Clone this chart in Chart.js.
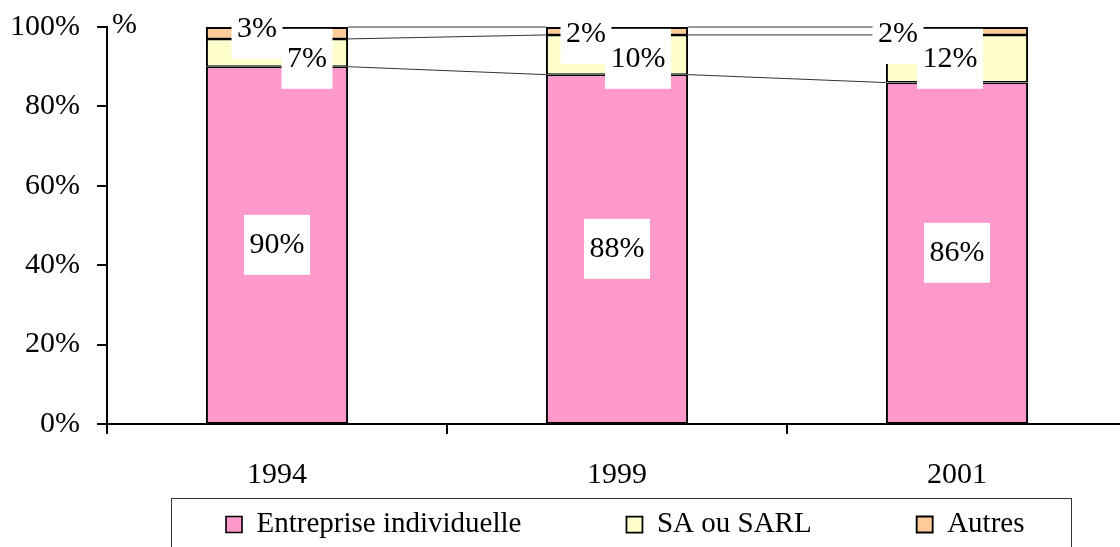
<!DOCTYPE html>
<html>
<head>
<meta charset="utf-8">
<title>Forme juridique</title>
<script src="https://cdn.jsdelivr.net/npm/chart.js@4"></script>
<style>
html, body { margin: 0; padding: 0; background: #fff; }
#wrap { width: 1120px; height: 547px; overflow: hidden; position: relative; }
#chart { position: absolute; left: 0; top: 0; }
</style>
</head>
<body>
<div id="wrap"><canvas id="chart" width="1127" height="660"></canvas></div>
<script>
// data
const years = ['1994', '1999', '2001'];
const entreprise = [90, 88, 86];
const saSarl = [7, 10, 12];
const autres = [3, 2, 2];
const yTicks = [0, 20, 40, 60, 80, 100];

// where Excel nudged the small labels (px, from segment centre)
const labelShift = [
    [[0, 0], [0, 0], [0, 0]],
    [[30, 6], [21, 4], [-7, 0]],
    [[-20, -4], [-31, 3], [-59, 3]]
];

const FONT = '"Liberation Serif", "Times New Roman", serif';
Chart.defaults.font.family = FONT;
Chart.defaults.font.size = 30;
Chart.defaults.color = '#000';

// series lines + white-boxed data labels
const segmentLabels = {
    id: 'segmentLabels',
    afterDatasetsDraw(chart) {
        const ctx = chart.ctx;
        ctx.save();
        ctx.strokeStyle = '#333';
        ctx.lineWidth = 1;
        chart.data.datasets.forEach((ds, d) => {
            const bars = chart.getDatasetMeta(d).data;
            for (let i = 0; i < bars.length - 1; i++) {
                const a = bars[i], b = bars[i + 1];
                ctx.beginPath();
                ctx.moveTo(a.x + a.width / 2, a.y);
                ctx.lineTo(b.x - b.width / 2, b.y);
                ctx.stroke();
            }
        });
        ctx.font = '30px ' + FONT;
        ctx.textAlign = 'center';
        ctx.textBaseline = 'middle';
        chart.data.datasets.forEach((ds, d) => {
            chart.getDatasetMeta(d).data.forEach((bar, i) => {
                const txt = ds.data[i] + '%';
                const cx = bar.x + labelShift[d][i][0];
                const cy = (bar.y + bar.base) / 2 + labelShift[d][i][1];
                const w = ctx.measureText(txt).width + 11;
                ctx.fillStyle = '#fff';
                ctx.fillRect(cx - w / 2, cy - 30, w, 60);
                ctx.fillStyle = '#000';
                ctx.fillText(txt, cx, cy);
            });
        });
        ctx.restore();
    }
};

// legend placement like Excel (boxed, wide spacing) and the "%" unit
const excelLegend = {
    id: 'excelLegend',
    afterLayout(chart) {
        const lg = chart.legend;
        const h = lg.bottom - lg.top;
        lg.left = 75;
        lg.right = 1175.5;
        lg.width = lg.right - lg.left;
        lg.top = 405;
        lg.bottom = lg.top + h;
    },
    afterDraw(chart) {
        const ctx = chart.ctx;
        const y = chart.scales.y;
        ctx.save();
        ctx.strokeStyle = '#333';
        ctx.lineWidth = 1;
        ctx.strokeRect(171.5, 498.5, 900, 80);
        ctx.font = '30px ' + FONT;
        ctx.fillStyle = '#000';
        ctx.textAlign = 'left';
        ctx.textBaseline = 'alphabetic';
        ctx.fillText('%', y.right + 5, chart.chartArea.top + 6);
        ctx.restore();
    }
};

new Chart(document.getElementById('chart'), {
    type: 'bar',
    data: {
        labels: years,
        datasets: [{
            label: 'Entreprise individuelle',
            data: entreprise,
            backgroundColor: '#FF99CC',
            borderColor: '#000',
            borderWidth: {left: 2, right: 2, top: 1.5, bottom: 1},
            borderSkipped: false
        }, {
            label: 'SA ou SARL',
            data: saSarl,
            backgroundColor: '#FFFFCC',
            borderColor: '#000',
            borderWidth: {left: 2, right: 2, top: 1.5, bottom: 1.5},
            borderSkipped: false
        }, {
            label: 'Autres',
            data: autres,
            backgroundColor: '#FFCC99',
            borderColor: '#000',
            borderWidth: {left: 2, right: 2, top: 2, bottom: 1.5},
            borderSkipped: false
        }]
    },
    options: {
        responsive: false,
        animation: false,
        events: [],
        categoryPercentage: 1,
        barPercentage: 0.418,
        layout: {padding: {left: 12, top: 27, right: 0, bottom: 0}},
        plugins: {
            tooltip: {enabled: false},
            legend: {
                position: 'bottom',
                labels: {
                    color: '#000',
                    font: {size: 29, family: FONT},
                    boxWidth: 16,
                    boxHeight: 16,
                    padding: 105
                }
            }
        },
        scales: {
            x: {
                stacked: true,
                grid: {offset: true, drawOnChartArea: false, drawTicks: true, tickLength: 10, color: '#000', lineWidth: 2},
                border: {display: true, color: '#000', width: 2},
                ticks: {padding: 23, maxRotation: 0, color: '#000'}
            },
            y: {
                stacked: true,
                min: 0,
                max: 100,
                afterBuildTicks: s => { s.ticks = yTicks.map(v => ({value: v})); },
                afterFit: s => { s.width = 95; s.paddingTop = 0; s.paddingBottom = 0; },
                grid: {drawOnChartArea: false, drawTicks: true, tickLength: 10, color: '#000', lineWidth: 2},
                border: {display: true, color: '#000', width: 2},
                ticks: {padding: 17, color: '#000', callback: v => v + '%'}
            }
        }
    },
    plugins: [segmentLabels, excelLegend]
});
</script>
</body>
</html>
